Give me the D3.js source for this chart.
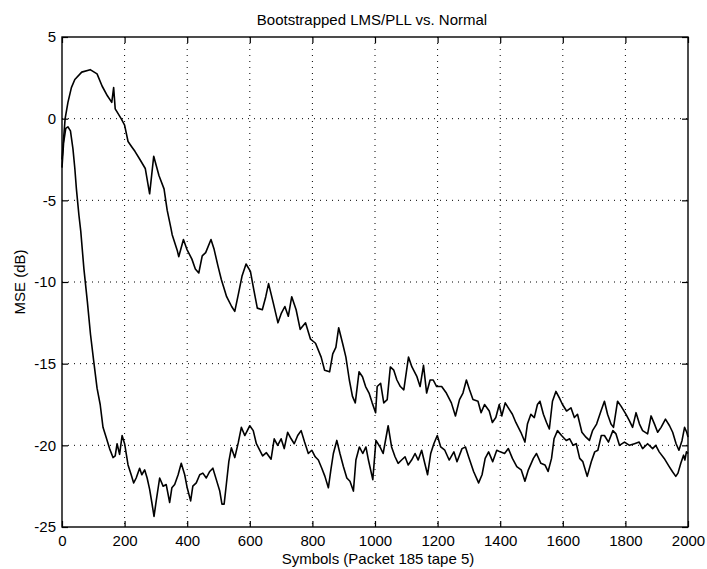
<!DOCTYPE html>
<html>
<head>
<meta charset="utf-8">
<script src="https://cdn.jsdelivr.net/npm/d3@7"></script>
<style>
  body { margin: 0; background: #fff; }
  svg text { font-family: "Liberation Sans", Arial, Helvetica, sans-serif; fill: #000; }
</style>
</head>
<body>
<div id="chart"></div>
<script>
// MSE curves, [symbol, dB]

// slow one ("Normal")
const normalMse = [
  [0,-2.5],[4,-1.5],[10,0],[19,1.0],[30,1.9],[41,2.4],[63,2.85],[90,3.0],[112,2.74],[128,2.0],
  [145,1.4],[159,1.0],[165,1.9],[170,0.6],[189,0],[200,-0.4],[211,-1.4],[222,-1.7],[233,-2.0],[249,-2.5],
  [266,-3.05],[280,-4.6],[293,-2.3],[310,-3.5],[326,-4.3],[336,-5.6],[348,-6.7],[352,-7.1],[368,-8.05],[373,-8.45],
  [388,-7.4],[399,-8.0],[415,-8.6],[426,-9.2],[437,-9.45],[448,-8.4],[459,-8.2],[476,-7.4],[486,-8.0],[498,-9.0],
  [509,-9.85],[526,-10.9],[542,-11.5],[552,-11.8],[564,-10.7],[575,-9.65],[588,-8.9],[602,-9.35],[613,-10.5],[624,-11.6],
  [640,-11.7],[651,-10.9],[660,-10.1],[674,-11.2],[690,-12.5],[701,-11.9],[712,-11.5],[723,-12.1],[734,-10.9],[748,-11.7],
  [761,-12.9],[778,-12.5],[794,-13.5],[810,-13.75],[828,-14.6],[839,-15.4],[855,-15.5],[865,-14.4],[875,-14.0],[884,-12.8],
  [897,-13.8],[907,-14.6],[918,-16.0],[928,-17.0],[937,-17.4],[949,-15.5],[960,-15.8],[970,-16.4],[981,-16.8],[991,-17.4],
  [1002,-18.0],[1007,-16.4],[1018,-16.2],[1028,-17.4],[1039,-17.2],[1049,-15.2],[1060,-15.4],[1070,-16.0],[1081,-16.4],[1092,-16.6],
  [1107,-14.6],[1118,-15.2],[1134,-15.8],[1144,-16.4],[1155,-15.1],[1165,-16.8],[1176,-16.0],[1186,-16.0],[1197,-16.4],[1213,-16.4],
  [1228,-16.8],[1244,-17.4],[1257,-18.2],[1270,-17.2],[1281,-16.8],[1292,-16.0],[1302,-16.6],[1313,-17.2],[1329,-17.3],[1339,-18.0],
  [1350,-17.5],[1365,-17.9],[1375,-18.6],[1386,-18.3],[1397,-17.5],[1405,-18.2],[1416,-17.4],[1429,-17.8],[1439,-18.1],[1450,-18.6],
  [1466,-19.2],[1479,-19.8],[1487,-18.7],[1498,-18.1],[1509,-18.3],[1519,-17.5],[1527,-17.3],[1538,-18.1],[1548,-18.6],[1557,-19.0],
  [1567,-17.3],[1578,-16.7],[1589,-17.1],[1599,-17.5],[1612,-17.9],[1626,-17.7],[1637,-18.3],[1647,-18.1],[1661,-19.2],[1674,-19.5],
  [1685,-19.7],[1695,-19.1],[1708,-18.7],[1722,-17.9],[1733,-17.3],[1743,-18.1],[1754,-18.7],[1762,-18.9],[1775,-17.3],[1786,-17.6],
  [1802,-18.1],[1813,-18.5],[1823,-18.9],[1834,-18.0],[1845,-18.7],[1855,-19.1],[1871,-19.3],[1882,-18.2],[1893,-18.7],[1903,-19.2],
  [1914,-18.9],[1928,-18.4],[1941,-18.8],[1951,-19.2],[1962,-19.9],[1971,-20.3],[1981,-19.7],[1989,-18.9],[1996,-19.2],[2000,-19.5]
];

// fast one (bootstrapped LMS/PLL)
const bootMse = [
  [0,-3.0],[5,-1.5],[12,-0.6],[19,-0.5],[27,-0.75],[35,-1.85],[41,-3.05],[46,-4.3],[54,-5.9],[60,-6.9],
  [70,-9.2],[81,-11.2],[91,-13.2],[101,-14.8],[112,-16.5],[122,-17.5],[131,-18.9],[141,-19.5],[152,-20.2],[163,-20.75],
  [170,-20.65],[176,-19.9],[184,-20.55],[192,-19.4],[200,-19.9],[211,-21.2],[221,-21.8],[229,-22.3],[237,-22.0],[248,-21.4],
  [255,-21.8],[264,-21.5],[272,-22.0],[280,-22.7],[287,-23.5],[294,-24.35],[301,-23.4],[312,-22.0],[323,-22.5],[333,-22.4],
  [344,-23.5],[351,-22.6],[360,-22.4],[371,-21.8],[381,-21.1],[392,-21.8],[400,-22.6],[411,-23.4],[418,-22.5],[429,-22.3],
  [440,-21.8],[450,-21.7],[461,-22.0],[472,-21.6],[482,-21.4],[493,-22.1],[504,-22.8],[511,-23.6],[518,-23.6],[525,-22.4],
  [533,-21.0],[541,-20.15],[552,-20.75],[563,-19.85],[573,-18.9],[584,-19.4],[600,-18.8],[611,-19.1],[621,-19.9],[641,-20.65],
  [653,-20.45],[668,-20.85],[678,-19.6],[689,-20.0],[700,-19.6],[710,-20.2],[721,-19.2],[732,-19.6],[742,-19.9],[753,-19.4],
  [764,-19.1],[775,-19.8],[787,-20.5],[798,-20.3],[809,-20.7],[819,-20.9],[830,-21.4],[840,-21.9],[851,-22.6],[859,-21.5],
  [867,-20.5],[878,-19.7],[888,-20.5],[899,-21.3],[910,-22.0],[920,-22.2],[931,-22.8],[939,-20.9],[950,-20.1],[961,-20.5],
  [971,-20.1],[979,-20.9],[993,-22.1],[1003,-19.7],[1016,-20.1],[1026,-20.5],[1042,-18.8],[1053,-20.1],[1064,-20.7],[1074,-21.1],
  [1085,-20.9],[1096,-20.7],[1106,-21.2],[1117,-20.9],[1128,-20.5],[1138,-20.9],[1149,-20.3],[1159,-21.1],[1168,-21.8],[1178,-20.5],
  [1188,-19.9],[1199,-19.4],[1210,-20.1],[1223,-20.3],[1237,-20.9],[1252,-20.4],[1262,-21.0],[1278,-20.2],[1289,-20.1],[1299,-20.7],
  [1315,-21.6],[1331,-22.3],[1342,-21.8],[1352,-20.8],[1363,-20.4],[1376,-21.0],[1389,-20.3],[1400,-20.4],[1414,-20.5],[1426,-20.2],
  [1439,-20.8],[1453,-21.3],[1467,-21.5],[1479,-22.2],[1490,-21.5],[1506,-20.8],[1516,-20.5],[1530,-21.1],[1543,-21.2],[1553,-21.6],
  [1564,-20.8],[1572,-19.6],[1583,-19.1],[1596,-19.4],[1611,-19.7],[1622,-19.6],[1633,-20.0],[1643,-19.9],[1654,-20.8],[1664,-21.0],
  [1678,-21.9],[1691,-21.0],[1702,-20.4],[1712,-20.3],[1723,-19.4],[1733,-19.4],[1746,-19.8],[1760,-19.1],[1770,-19.3],[1781,-20.0],
  [1797,-19.8],[1813,-20.0],[1829,-19.9],[1844,-19.8],[1855,-20.2],[1871,-19.9],[1887,-20.2],[1897,-20.0],[1908,-20.4],[1924,-20.8],
  [1940,-21.3],[1950,-21.6],[1961,-21.9],[1968,-21.7],[1977,-21.1],[1986,-20.6],[1990,-20.9],[1995,-20.4],[2000,-20.5]
];

// axis ticks
const xTicks = [0, 200, 400, 600, 800, 1000, 1200, 1400, 1600, 1800, 2000];
const yTicks = [-25, -20, -15, -10, -5, 0, 5];

const titleText = "Bootstrapped LMS/PLL vs. Normal";
const xLabel = "Symbols (Packet 185 tape 5)";
const yLabel = "MSE (dB)";

var width = 707, height = 569;
var margin = {top: 37, right: 19, bottom: 42, left: 62};
var w = width - margin.left - margin.right;
var h = height - margin.top - margin.bottom;

var svg = d3.select("#chart").append("svg")
  .attr("width", width)
  .attr("height", height);

var g = svg.append("g")
  .attr("transform", "translate(" + margin.left + "," + margin.top + ")");

var x = d3.scaleLinear().domain([0, 2000]).range([0, w]);
var y = d3.scaleLinear().domain([-25, 5]).range([h, 0]);

// dotted grid (matlab style)
g.append("g").selectAll("line.vgrid")
  .data(xTicks.slice(1, -1))
  .enter().append("line")
  .attr("x1", d => x(d)).attr("x2", d => x(d))
  .attr("y1", 0).attr("y2", h)
  .attr("stroke", "#000").attr("stroke-width", 1)
  .attr("stroke-dasharray", "1,5");

g.append("g").selectAll("line.hgrid")
  .data(yTicks.slice(1, -1))
  .enter().append("line")
  .attr("x1", 0).attr("x2", w)
  .attr("y1", d => y(d)).attr("y2", d => y(d))
  .attr("stroke", "#000").attr("stroke-width", 1)
  .attr("stroke-dasharray", "1,5");

// axes with inside ticks
function styleAxis(sel) {
  sel.select(".domain").remove();
  sel.selectAll(".tick line").attr("stroke", "#000").attr("stroke-width", 1.2);
  sel.selectAll("text")
    .style("font-size", "15px")
    .style("font-family", "'Liberation Sans', Arial, sans-serif");
}

g.append("g")
  .attr("transform", "translate(0," + h + ")")
  .call(d3.axisBottom(x).tickValues(xTicks).tickSize(-6).tickPadding(8).tickFormat(d3.format("d")))
  .call(styleAxis);

g.append("g")
  .call(d3.axisTop(x).tickValues(xTicks).tickSize(-6).tickFormat(""))
  .call(styleAxis);

g.append("g")
  .call(d3.axisLeft(y).tickValues(yTicks).tickSize(-6).tickPadding(6).tickFormat(d => d < 0 ? "-" + Math.abs(d) : d))
  .call(styleAxis);

g.append("g")
  .attr("transform", "translate(" + w + ",0)")
  .call(d3.axisRight(y).tickValues(yTicks).tickSize(-6).tickFormat(""))
  .call(styleAxis);

// frame
g.append("rect")
  .attr("width", w).attr("height", h)
  .attr("fill", "none").attr("stroke", "#000").attr("stroke-width", 1.4);

var line = d3.line()
  .x(d => x(d[0]))
  .y(d => y(d[1]));

g.append("path").datum(normalMse)
  .attr("d", line)
  .attr("fill", "none").attr("stroke", "#000").attr("stroke-width", 1.6)
  .attr("stroke-linejoin", "round");

g.append("path").datum(bootMse)
  .attr("d", line)
  .attr("fill", "none").attr("stroke", "#000").attr("stroke-width", 1.6)
  .attr("stroke-linejoin", "round");

// labels
svg.append("text")
  .attr("x", 372).attr("y", 25)
  .attr("text-anchor", "middle")
  .style("font-size", "15px")
  .text(titleText);

svg.append("text")
  .attr("x", margin.left + w / 2 + 3).attr("y", 564)
  .attr("text-anchor", "middle")
  .style("font-size", "15px")
  .text(xLabel);

svg.append("text")
  .attr("transform", "translate(25," + (margin.top + h / 2) + ") rotate(-90)")
  .attr("text-anchor", "middle")
  .style("font-size", "15px")
  .text(yLabel);
</script>
</body>
</html>
